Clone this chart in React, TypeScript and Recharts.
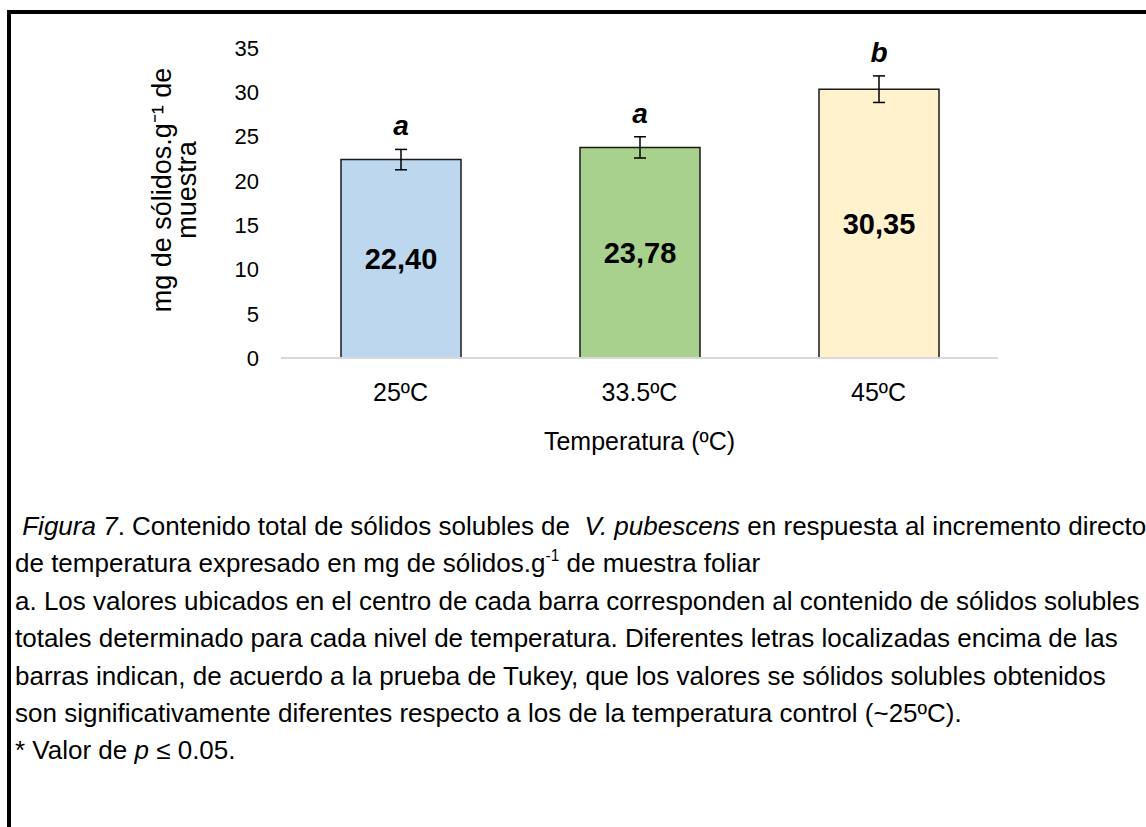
import { BarChart, Bar, XAxis, YAxis, ErrorBar, LabelList, Cell, Label } from 'recharts'

const temperatures = ['25ºC', '33.5ºC', '45ºC']
const solids = [22.4, 23.78, 30.35]
const solidsSd = [1.15, 1.2, 1.5]
const tukeyGroups = ['a', 'a', 'b']
const yTicks = [0, 5, 10, 15, 20, 25, 30, 35]
const barColors = ['#BDD7EE', '#A9D18E', '#FFF2CC']

const data = temperatures.map((t, i) => ({ temp: t, value: solids[i], err: solidsSd[i], group: tukeyGroups[i] }))

const FONT = '"Liberation Sans", Arial, sans-serif'

// significance letter sits just above the top of the error bar
function TukeyLetter(props: any) {
  const { x, y, width, height, index } = props
  const d = data[index]
  const pxPerUnit = height / d.value
  const errTop = y - d.err * pxPerUnit
  return (
    <text x={x + width / 2} y={errTop - 14} textAnchor="middle" fontFamily={FONT} fontSize={28} fontWeight="bold" fontStyle="italic" fill="#000">
      {d.group}
    </text>
  )
}

function YTitle() {
  return (
    <text transform="translate(175, 190) rotate(-90)" textAnchor="middle" fontFamily={FONT} fontSize={27} fill="#000">
      <tspan x={0} dy={-4}>
        mg de sólidos.g⁻¹ de
      </tspan>
      <tspan x={0} dy={25}>
        muestra
      </tspan>
    </text>
  )
}

const sup = (s: string) => <span style={{ fontSize: '0.6em', position: 'relative', top: '-0.75em', lineHeight: 0 }}>{s}</span>

const captionLines: React.ReactNode[] = [
  <>
    {'\u00a0'}
    <i>Figura 7</i>. Contenido total de sólidos solubles de {'\u00a0'}<i>V. pubescens</i> en respuesta al incremento directo
  </>,
  <>de temperatura expresado en mg de sólidos.g{sup('-1')} de muestra foliar</>,
  <>a. Los valores ubicados en el centro de cada barra corresponden al contenido de sólidos solubles</>,
  <>totales determinado para cada nivel de temperatura. Diferentes letras localizadas encima de las</>,
  <>barras indican, de acuerdo a la prueba de Tukey, que los valores se sólidos solubles obtenidos</>,
  <>son significativamente diferentes respecto a los de la temperatura control (~25ºC).</>,
  <>
    * Valor de <i>p</i> ≤ 0.05.
  </>,
]

export default function App() {
  return (
    <div style={{ position: 'absolute', left: 0, top: 0, width: 1146, height: 827, background: '#fff', overflow: 'hidden', fontFamily: FONT }}>
      <div style={{ position: 'absolute', left: 7, top: 10, right: 0, bottom: 0, borderTop: '4px solid #000', borderLeft: '4px solid #000' }} />
      <div style={{ position: 'absolute', left: 0, top: 0 }}>
        <BarChart width={1146} height={470} data={data} margin={{ top: 48, right: 148, bottom: 0, left: 0 }}>
          <YAxis
            width={281}
            domain={[0, 35]}
            ticks={yTicks}
            interval={0}
            axisLine={false}
            tickLine={false}
            tickMargin={16}
            tick={{ fontFamily: FONT, fontSize: 22, fill: '#000' }}
          >
            <Label content={<YTitle />} />
          </YAxis>
          <XAxis
            dataKey="temp"
            height={112}
            axisLine={{ stroke: '#d9d9d9', strokeWidth: 2 }}
            tickLine={false}
            tickMargin={19}
            tick={{ fontFamily: FONT, fontSize: 25, fill: '#000' }}
          >
            <Label value="Temperatura (ºC)" position="insideTop" offset={74} style={{ fontFamily: FONT, fontSize: 25, fill: '#000' }} />
          </XAxis>
          <Bar dataKey="value" barSize={120} stroke="#1a1a1a" strokeWidth={1.5} isAnimationActive={false}>
            {data.map((d, i) => (
              <Cell key={d.temp} fill={barColors[i]} />
            ))}
            <ErrorBar dataKey="err" direction="y" width={6} stroke="#000" strokeWidth={1.5} />
            <LabelList
              dataKey="value"
              position="center"
              formatter={(v: any) => Number(v).toFixed(2).replace('.', ',')}
              style={{ fontFamily: FONT, fontSize: 29, fontWeight: 'bold', fill: '#000' }}
            />
            <LabelList dataKey="group" content={<TukeyLetter />} />
          </Bar>
        </BarChart>
      </div>
      {captionLines.map((line, i) => (
        <div
          key={i}
          style={{ position: 'absolute', left: 15, top: 526 + i * 37.4 - 16, height: 32, lineHeight: '32px', fontSize: 26, color: '#000', whiteSpace: 'nowrap' }}
        >
          {line}
        </div>
      ))}
    </div>
  )
}
